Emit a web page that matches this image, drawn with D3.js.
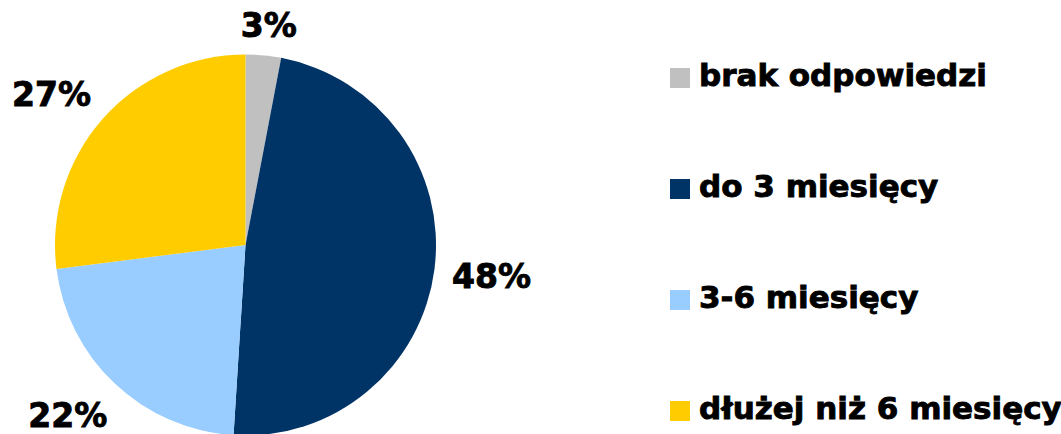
<!DOCTYPE html>
<html>
<head>
<meta charset="utf-8">
<script src="https://cdn.jsdelivr.net/npm/d3@7"></script>
<style>
  html, body { margin: 0; padding: 0; background: #fff; overflow: hidden; }
  text { font-family: "DejaVu Sans", Verdana, sans-serif; font-weight: bold; fill: #000; stroke: #000; stroke-width: 0.9px; }
</style>
</head>
<body>
<svg id="chart"></svg>
<script>
const categories = ['brak odpowiedzi', 'do 3 miesięcy', '3-6 miesięcy', 'dłużej niż 6 miesięcy'];
const values = [3, 48, 22, 27];
const colors = ['#C0C0C0', '#003366', '#99CCFF', '#FFCC00'];

const width = 1061, height = 434;
const cx = 245.5, cy = 245, radius = 190.5;
const labelRadius = 248;

const svg = d3.select('#chart')
    .attr('width', width)
    .attr('height', height);

const data = categories.map((c, i) => ({ name: c, value: values[i], color: colors[i] }));

const pie = d3.pie().value(d => d.value).sort(null);
const arc = d3.arc().innerRadius(0).outerRadius(radius);
const labelArc = d3.arc().innerRadius(labelRadius).outerRadius(labelRadius);

const pieG = svg.append('g')
    .attr('transform', `translate(${cx},${cy})`);

const arcs = pie(data);

pieG.selectAll('path')
    .data(arcs)
    .join('path')
        .attr('d', arc)
        .attr('fill', d => d.data.color);

// labels: keep them inside the picture like the spreadsheet did
pieG.selectAll('text')
    .data(arcs)
    .join('text')
        .attr('text-anchor', 'middle')
        .attr('dy', '0.36em')
        .style('font-size', '33px')
        .attr('x', d => {
            const x = labelArc.centroid(d)[0];
            return x < 0 ? x - 8 : x;   // left side labels sit a bit further out
        })
        .attr('y', d => {
            let [x, y] = labelArc.centroid(d);
            if (x < 0 && y < 0) y += 13;  // upper-left label drops a little
            return Math.max(25 - cy, Math.min(height - 19 - cy, y));
        })
        .text(d => d.data.value + '%');

// legend
const legendY = d3.scalePoint()
    .domain(categories)
    .range([86, 419]);

const legG = svg.append('g').attr('transform', 'translate(670,0)');
const item = legG.selectAll('g')
    .data(data)
    .join('g')
        .attr('transform', d => `translate(0,${legendY(d.name)})`);

item.append('rect')
    .attr('x', 0)
    .attr('y', -18)
    .attr('width', 20)
    .attr('height', 20)
    .attr('fill', d => d.color);

item.append('text')
    .attr('x', 29)
    .attr('y', 0)
    .style('font-size', '31px')
    .text(d => d.name);
</script>
</body>
</html>
